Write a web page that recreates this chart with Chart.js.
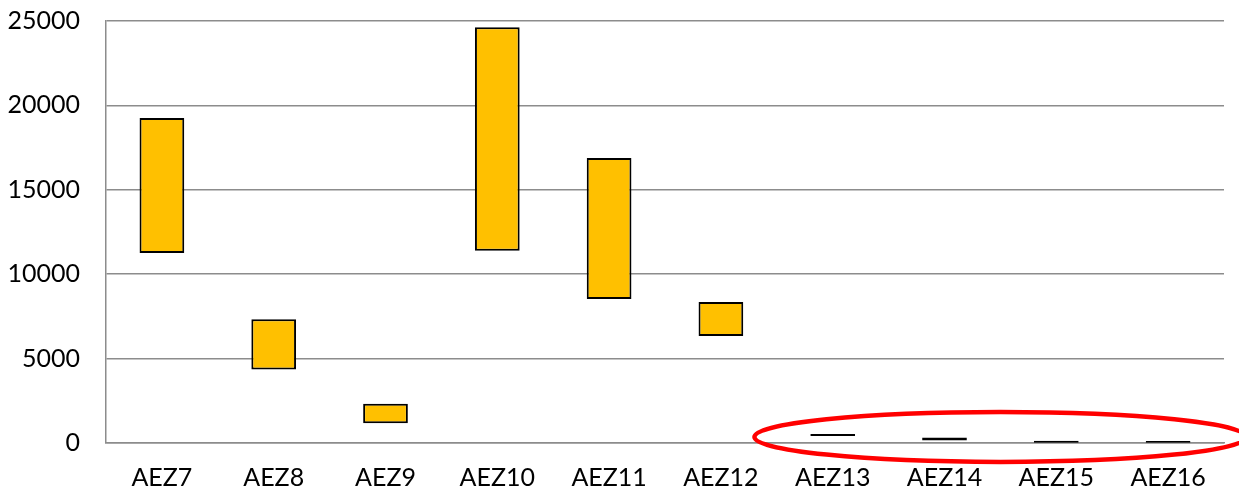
<!DOCTYPE html>
<html>
<head>
<meta charset="utf-8">
<script src="https://cdn.jsdelivr.net/npm/chart.js@4.4.0/dist/chart.umd.min.js"></script>
<style>
  html, body { margin: 0; padding: 0; background: #fff; }
  #wrap { width: 1239px; height: 486px; }
</style>
</head>
<body>
<div id="wrap"><canvas id="chart"></canvas></div>
<script>
// categorias e intervalos (min, max)
const zones = ['AEZ7', 'AEZ8', 'AEZ9', 'AEZ10', 'AEZ11', 'AEZ12', 'AEZ13', 'AEZ14', 'AEZ15', 'AEZ16'];
const lowValues = [11250, 4350, 1170, 11390, 8530, 6340, 415, 150, 20, 10];
const highValues = [19250, 7330, 2330, 24630, 16880, 8350, 535, 330, 130, 120];
const yTicks = [0, 5000, 10000, 15000, 20000, 25000];

const ranges = zones.map((z, i) => [lowValues[i], highValues[i]]);
const gridGray = '#8c8c8c';
const font = { family: 'Lato, "Open Sans", sans-serif', size: 25 };

// elipse vermelha a destacar as ultimas zonas
const highlight = {
    id: 'highlight',
    afterDatasetsDraw(chart) {
        const x = chart.scales.x, y = chart.scales.y;
        const c = chart.ctx;
        const cx = (x.getPixelForValue(7) + x.getPixelForValue(8)) / 2;
        const step = x.getPixelForValue(1) - x.getPixelForValue(0);
        const cy = y.getPixelForValue(360);
        const ry = y.getPixelForValue(0) - y.getPixelForValue(1480);
        c.save();
        c.strokeStyle = '#ff0000';
        c.lineWidth = 4.5;
        c.beginPath();
        c.ellipse(cx, cy, step * 2.2, ry, 0, 0, Math.PI * 2);
        c.stroke();
        c.restore();
    }
};

new Chart(document.getElementById('chart'), {
    type: 'bar',
    data: {
        labels: zones,
        datasets: [{
            data: ranges,
            backgroundColor: '#FFC000',
            borderColor: '#000000',
            borderWidth: 2,
            borderSkipped: false,
            categoryPercentage: 1,
            barPercentage: 0.4
        }]
    },
    options: {
        responsive: true,
        maintainAspectRatio: false,
        animation: false,
        layout: { padding: { top: 21, right: 15, left: 0, bottom: 0 } },
        plugins: { legend: { display: false }, tooltip: { enabled: false } },
        scales: {
            x: {
                grid: { display: false },
                border: { display: true, color: gridGray, width: 1.5 },
                ticks: { color: '#000', font: font, padding: 12, maxRotation: 0 },
                afterFit: s => { s.height = 43; s.paddingLeft = 0; s.paddingRight = 0; }
            },
            y: {
                min: 0,
                max: 25000,
                afterBuildTicks: s => { s.ticks = yTicks.map(v => ({ value: v })); },
                grid: { color: gridGray, lineWidth: 1.5, drawTicks: false },
                border: { display: true, color: gridGray, width: 1.5 },
                ticks: { color: '#000', font: font, padding: 26, callback: v => String(v) },
                afterFit: s => { s.width = 106; s.paddingTop = 0; s.paddingBottom = 0; }
            }
        }
    },
    plugins: [highlight]
});
</script>
</body>
</html>
